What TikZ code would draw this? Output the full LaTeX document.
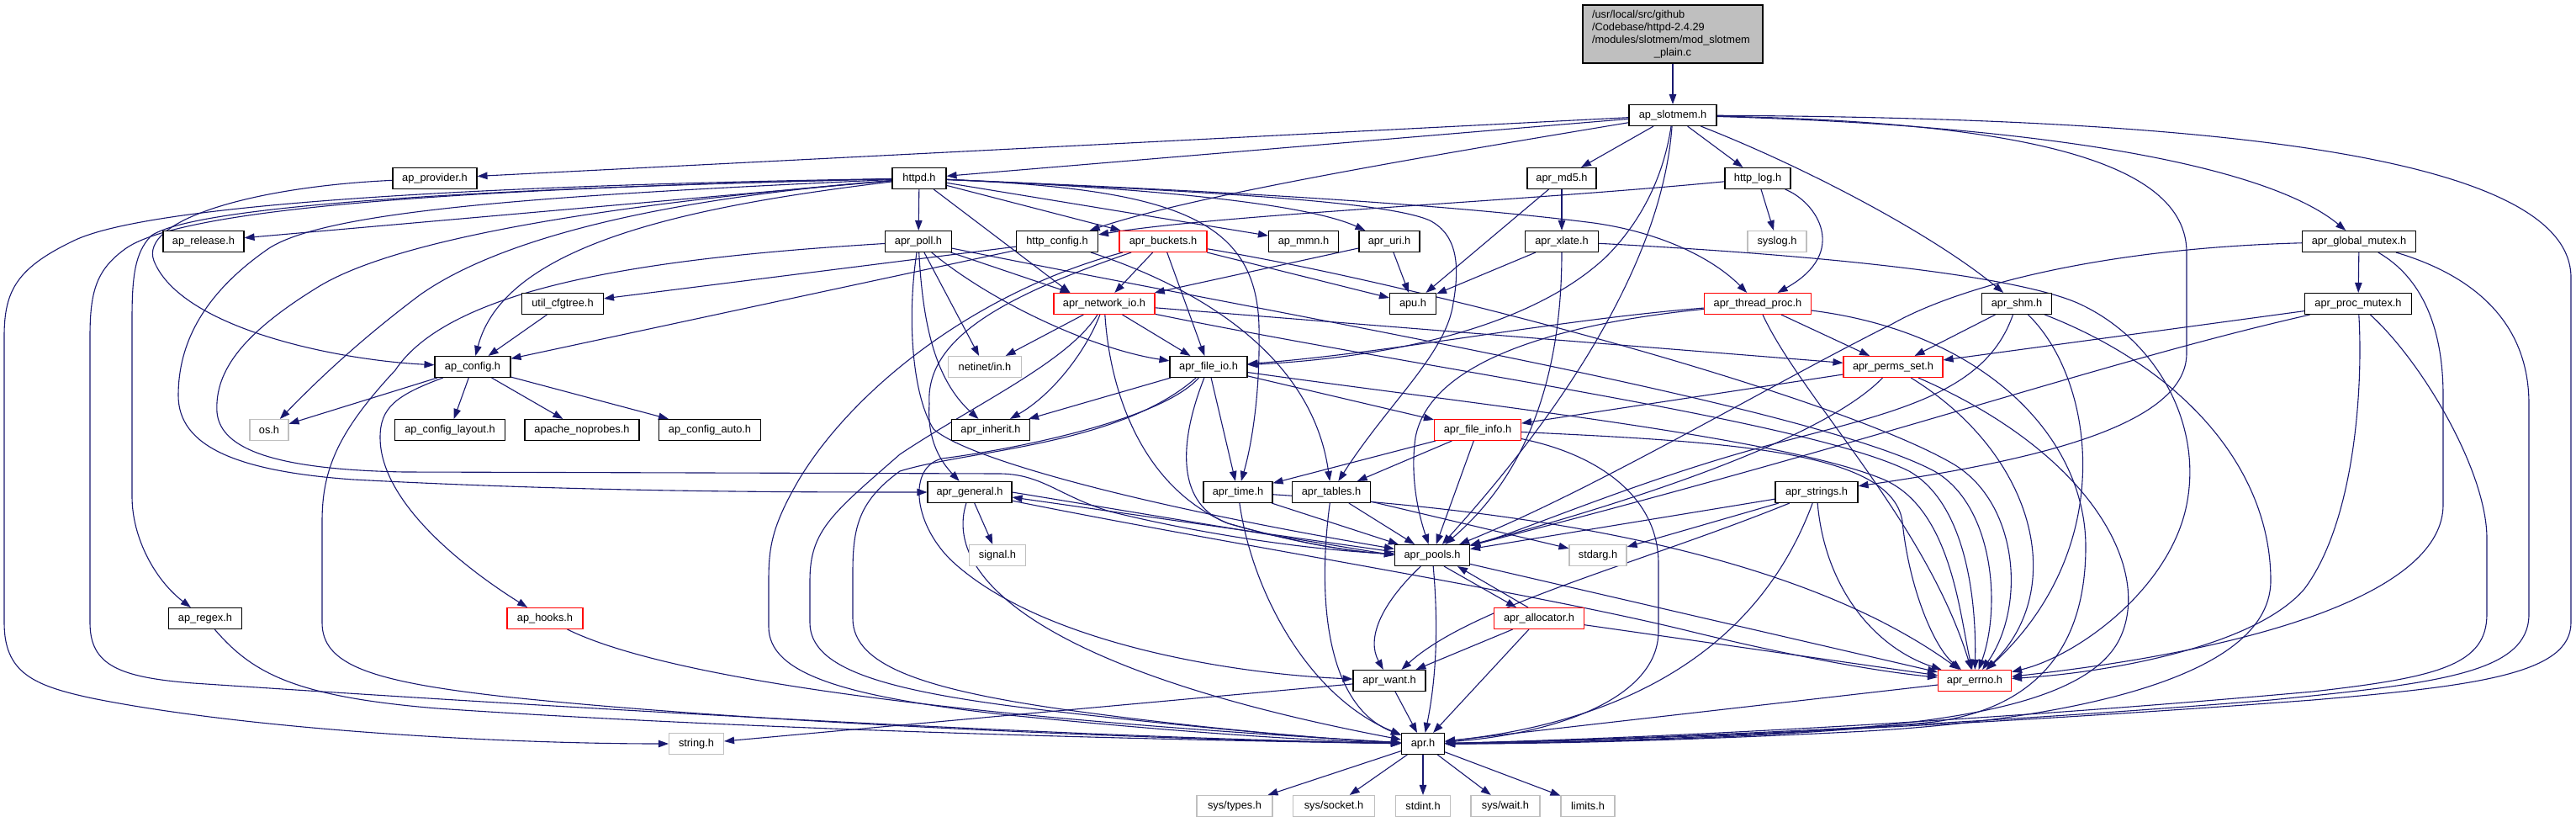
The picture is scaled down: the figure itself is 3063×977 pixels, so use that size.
\documentclass[tikz,border=0pt]{standalone}
\usepackage{fontspec}
\setmainfont{Liberation Sans}
\usetikzlibrary{arrows.meta}
\pgfdeclarelayer{bg}
\pgfsetlayers{bg,main}
\definecolor{edgec}{RGB}{25,25,112}
\definecolor{redc}{RGB}{255,0,0}
\definecolor{grayc}{RGB}{191,191,191}
\begin{document}
\begin{tikzpicture}[x=1pt,y=-1pt,
  nb/.style={draw=black, fill=white, line width=1.1pt, minimum height=25pt, inner xsep=5pt, inner ysep=0pt, font=\fontsize{12.8}{15}\selectfont},
  rb/.style={nb, draw=redc},
  gb/.style={nb, draw=grayc},
  bw/.style={minimum width=#1pt},
  ed/.style={draw=edgec, line width=1.1pt, -{Triangle[length=12pt,width=8.5pt]}},
]
\useasboundingbox (0,0) rectangle (3063,977);
% ---------------- nodes ----------------
\node[draw=black, fill=grayc, line width=1.1pt, minimum width=214pt, minimum height=69pt, text width=192pt, align=left, inner xsep=11pt, inner ysep=0pt, font=\fontsize{12.8}{15}\selectfont] (main) at (1989,40.5) {/usr/local/src/github\\/Codebase/httpd-2.4.29\\/modules/slotmem/mod\_slotmem\\\makebox[192pt][c]{\_plain.c}};
\node[nb, bw=104] (slotmem) at (1989,137) {ap\_slotmem.h};
\node[nb, bw=100] (provider) at (517,212) {ap\_provider.h};
\node[nb, bw=64] (httpd) at (1093,212) {httpd.h};
\node[nb, bw=82] (md5) at (1857,212) {apr\_md5.h};
\node[nb, bw=78] (httplog) at (2090,212) {http\_log.h};
\node[nb, bw=96] (release) at (242,287) {ap\_release.h};
\node[nb, bw=79] (poll) at (1092,287) {apr\_poll.h};
\node[nb, bw=97] (httpconfig) at (1257,287) {http\_config.h};
\node[rb, bw=104] (buckets) at (1383,287) {apr\_buckets.h};
\node[nb, bw=83] (mmn) at (1550,287) {ap\_mmn.h};
\node[nb, bw=72] (uri) at (1652,287) {apr\_uri.h};
\node[nb, bw=87] (xlate) at (1857,287) {apr\_xlate.h};
\node[gb, bw=70] (syslog) at (2113,287) {syslog.h};
\node[nb, bw=135] (globalmutex) at (2805,287) {apr\_global\_mutex.h};
\node[nb, bw=97] (cfgtree) at (669,361) {util\_cfgtree.h};
\node[rb, bw=120] (netio) at (1313,361) {apr\_network\_io.h};
\node[nb, bw=55] (apu) at (1680,361) {apu.h};
\node[rb, bw=127] (threadproc) at (2090,361) {apr\_thread\_proc.h};
\node[nb, bw=83] (shm) at (2398,361) {apr\_shm.h};
\node[nb, bw=127] (procmutex) at (2804,361) {apr\_proc\_mutex.h};
\node[nb, bw=90] (config) at (562,436) {ap\_config.h};
\node[gb, bw=87] (netinet) at (1171,436) {netinet/in.h};
\node[nb, bw=92] (fileio) at (1437,436) {apr\_file\_io.h};
\node[rb, bw=118] (permsset) at (2251,436) {apr\_perms\_set.h};
\node[gb, bw=46] (os) at (320,511) {os.h};
\node[nb, bw=131] (layout) at (535,511) {ap\_config\_layout.h};
\node[nb, bw=136] (noprobes) at (692,511) {apache\_noprobes.h};
\node[nb, bw=121] (cauto) at (844,511) {ap\_config\_auto.h};
\node[nb, bw=93] (inherit) at (1178,511) {apr\_inherit.h};
\node[rb, bw=103] (fileinfo) at (1757,511) {apr\_file\_info.h};
\node[nb, bw=100] (general) at (1153,585) {apr\_general.h};
\node[nb, bw=82] (time) at (1472,585) {apr\_time.h};
\node[nb, bw=93] (tables) at (1583,585) {apr\_tables.h};
\node[nb, bw=98] (strings) at (2160,585) {apr\_strings.h};
\node[gb, bw=67] (signal) at (1186,660) {signal.h};
\node[nb, bw=89] (pools) at (1703,660) {apr\_pools.h};
\node[gb, bw=68] (stdarg) at (1900,660) {stdarg.h};
\node[nb, bw=87] (regex) at (244,735) {ap\_regex.h};
\node[rb, bw=90] (hooks) at (648,735) {ap\_hooks.h};
\node[rb, bw=107] (allocator) at (1830,735) {apr\_allocator.h};
\node[nb, bw=86] (want) at (1652,809) {apr\_want.h};
\node[rb, bw=87] (errno) at (2348,809) {apr\_errno.h};
\node[gb, bw=65] (string) at (828,884) {string.h};
\node[nb, bw=51] (apr) at (1692,884) {apr.h};
\node[gb, bw=90] (systypes) at (1468,958) {sys/types.h};
\node[gb, bw=97] (syssocket) at (1586,958) {sys/socket.h};
\node[gb, bw=65] (stdint) at (1692,958) {stdint.h};
\node[gb, bw=82] (syswait) at (1790,958) {sys/wait.h};
\node[gb, bw=64] (limits) at (1888,958) {limits.h};
% ---------------- edges ----------------
\begin{pgfonlayer}{bg}
\draw[ed] (main) -- (slotmem);
% ap_slotmem.h
\draw[ed] (slotmem) -- (provider);
\draw[ed] (slotmem) -- (httpd);
\draw[ed] (slotmem) .. controls (1700,185) and (1420,232) .. (httpconfig);
\draw[ed] (slotmem) -- (md5);
\draw[ed] (slotmem) -- (httplog);
\draw[ed] (slotmem) .. controls (1975,230) and (1935,280) .. (1910,305) .. controls (1820,390) and (1650,425) .. (fileio);
\draw[ed] (slotmem) .. controls (1975,330) and (1830,520) .. (pools);
\draw[ed] (slotmem) .. controls (2150,200) and (2300,280) .. (shm);
\draw[ed] (slotmem) .. controls (2450,150) and (2700,200) .. (globalmutex);
\draw[ed] (slotmem) .. controls (2400,145) and (2600,190) .. (2600,300) -- (2600,420) .. controls (2600,510) and (2400,550) .. (strings);
\draw[ed] (slotmem) .. controls (2600,140) and (3057,180) .. (3057,330) -- (3057,740) .. controls (3057,800) and (2950,815) .. (2750,832) .. controls (2300,866) and (1900,881) .. (apr);
% httpd.h
\draw[ed] (httpd) -- (release);
\draw[ed] (httpd) .. controls (700,218) and (200,235) .. (90,285) .. controls (20,318) and (5,345) .. (5,400) -- (5,740) .. controls (5,800) and (40,815) .. (110,830) .. controls (300,868) and (600,884) .. (string);
\draw[ed] (httpd) .. controls (650,222) and (230,240) .. (150,295) .. controls (115,320) and (107,345) .. (107,400) -- (107,740) .. controls (107,790) and (140,805) .. (230,812) .. controls (500,830) and (1200,875) .. (apr);
\draw[ed] (httpd) .. controls (650,222) and (240,240) .. (180,280) .. controls (160,300) and (157,330) .. (157,380) -- (157,590) .. controls (157,640) and (185,690) .. (regex);
\draw[ed] (httpd) .. controls (650,232) and (390,250) .. (320,295) .. controls (240,350) and (212,410) .. (212,470) .. controls (212,530) and (280,560) .. (420,570) .. controls (700,585) and (950,585) .. (general);
\draw[ed] (httpd) .. controls (750,240) and (480,280) .. (380,340) .. controls (290,395) and (255,440) .. (258,490) .. controls (262,535) and (330,558) .. (480,561) -- (1190,563) .. controls (1240,564) and (1260,590) .. (1320,608) .. controls (1450,640) and (1580,655) .. (pools);
\draw[ed] (httpd) .. controls (800,235) and (600,280) .. (500,350) .. controls (420,410) and (370,460) .. (os);
\draw[ed] (httpd) .. controls (820,245) and (600,290) .. (config);
\draw[ed] (httpd) -- (poll);
\draw[ed] (httpd) -- ([xshift=20pt]netio.north west);
\draw[ed] (httpd) -- (buckets);
\draw[ed] (httpd) -- (mmn);
\draw[ed] (httpd) .. controls (1400,225) and (1560,245) .. (uri);
\draw[ed] (httpd) .. controls (1400,225) and (1700,240) .. (1895,265) .. controls (1980,277) and (2040,310) .. (threadproc);
\draw[ed] (httpd) .. controls (1400,225) and (1500,260) .. (1497,400) .. controls (1498,470) and (1488,530) .. (time);
\draw[ed] (httpd) .. controls (1450,228) and (1650,240) .. (1700,262) .. controls (1735,280) and (1735,320) .. (1728,360) .. controls (1720,420) and (1650,480) .. (tables);
% ap_provider.h
\draw[ed] (provider) .. controls (300,222) and (165,262) .. (183,310) .. controls (215,390) and (400,428) .. (config);
% apr_poll.h
\draw[ed] (poll) .. controls (800,305) and (540,335) .. (470,440) .. controls (400,515) and (383,560) .. (383,620) -- (383,740) .. controls (383,790) and (440,810) .. (600,828) .. controls (900,860) and (1400,880) .. (apr);
\draw[ed] (poll) .. controls (1078,380) and (1085,470) .. (1110,510) .. controls (1150,545) and (1350,600) .. (pools);
\draw[ed] (poll) .. controls (1097,380) and (1110,450) .. (inherit);
\draw[ed] (poll) -- (netinet);
\draw[ed] (poll) .. controls (1180,360) and (1300,415) .. (fileio);
\draw[ed] (poll) -- ([xshift=20pt]netio.north west);
\draw[ed] (poll) .. controls (1500,370) and (2150,480) .. (2300,560) .. controls (2370,600) and (2380,720) .. (errno);
% http_config.h
\draw[ed] (httpconfig) -- (cfgtree);
\draw[ed] (httpconfig) -- (config);
\draw[ed] (httpconfig) .. controls (1420,340) and (1560,420) .. (tables);
% apr_buckets.h
\draw[ed] (buckets) .. controls (1200,350) and (1100,400) .. (1105,480) .. controls (1102,525) and (1120,550) .. (general);
\draw[ed] (buckets) .. controls (1150,350) and (1010,470) .. (950,570) .. controls (918,625) and (914,650) .. (914,690) -- (914,745) .. controls (914,800) and (1000,828) .. (1200,850) .. controls (1400,870) and (1550,880) .. (apr);
\draw[ed] (buckets) -- (netio);
\draw[ed] (buckets) -- (fileio);
\draw[ed] (buckets) -- (apu);
\draw[ed] (buckets) .. controls (1700,340) and (2180,470) .. (2320,550) .. controls (2400,595) and (2410,720) .. (errno);
% apr_network_io.h
\draw[ed] (netio) -- (netinet);
\draw[ed] (netio) .. controls (1290,420) and (1250,470) .. (inherit);
\draw[ed] (netio) .. controls (1270,430) and (1160,480) .. (1070,540) .. controls (990,610) and (963,630) .. (963,690) -- (963,740) .. controls (963,795) and (1050,822) .. (1250,845) .. controls (1450,868) and (1600,880) .. (apr);
\draw[ed] (netio) .. controls (1320,470) and (1360,580) .. (1460,622) .. controls (1550,648) and (1620,657) .. (pools);
\draw[ed] (netio) -- (fileio);
\draw[ed] (netio) -- (permsset);
\draw[ed] (netio) .. controls (1700,440) and (2150,500) .. (2270,560) .. controls (2340,600) and (2350,720) .. (errno);
% apr_file_io.h
\draw[ed] (fileio) -- (inherit);
\draw[ed] (fileio) -- (time);
\draw[ed] (fileio) -- (fileinfo);
\draw[ed] (fileio) .. controls (1400,530) and (1400,600) .. (1460,622) .. controls (1550,648) and (1620,657) .. (pools);
\draw[ed] (fileio) .. controls (1750,480) and (2120,520) .. (2240,570) .. controls (2320,605) and (2330,730) .. (errno);
\draw[ed] (fileio) .. controls (1330,530) and (1150,535) .. (1070,560) .. controls (1022,595) and (1014,625) .. (1014,680) -- (1014,735) .. controls (1014,792) and (1100,822) .. (1300,848) .. controls (1450,868) and (1600,880) .. (apr);
\draw[ed] (fileio) .. controls (1380,500) and (1200,535) .. (1120,545) .. controls (1080,555) and (1085,620) .. (1130,665) .. controls (1230,760) and (1450,800) .. (want);
% apr_file_info.h
\draw[ed] (fileinfo) -- (time);
\draw[ed] (fileinfo) -- (tables);
\draw[ed] (fileinfo) -- (pools);
\draw[ed] (fileinfo) .. controls (2050,525) and (2250,535) .. (2262,620) .. controls (2270,700) and (2300,770) .. (errno);
\draw[ed] (fileinfo) .. controls (1900,540) and (1972,590) .. (1972,670) -- (1972,750) .. controls (1972,830) and (1850,872) .. (apr);
% apr_time.h
\draw[ed] (time) -- (pools);
\draw[ed] (time) .. controls (1700,600) and (2100,630) .. (errno);
\draw[ed] (time) .. controls (1490,710) and (1560,830) .. (apr);
% apr_tables.h
\draw[ed] (tables) -- (pools);
\draw[ed] (tables) -- (stdarg);
\draw[ed] (tables) .. controls (1565,720) and (1580,840) .. (apr);
% apr_general.h
\draw[ed] (general) -- (signal);
\draw[ed] (general.east) -- (pools.west);
\draw[ed] (general) .. controls (1120,690) and (1250,800) .. (apr);
\draw[ed] (general) .. controls (1450,645) and (1800,700) .. (2000,748) .. controls (2150,785) and (2250,800) .. (errno);
% apr_pools.h
\draw[ed] ([yshift=4pt]pools.west) -- ([yshift=-6pt]general.east);
\draw[ed] (pools) .. controls (1640,720) and (1625,760) .. (want);
\draw[ed] (pools) .. controls (1712,760) and (1705,820) .. (apr);
\draw[ed] ([xshift=14pt]pools.south) -- ([xshift=-27pt]allocator.north);
\draw[ed] (pools) -- (errno);
% apr_allocator.h
\draw[ed] ([xshift=-13pt]allocator.north) -- ([xshift=30pt]pools.south);
\draw[ed] (allocator) -- (want);
\draw[ed] (allocator) -- (apr);
\draw[ed] (allocator) -- (errno);
% apr_want.h
\draw[ed] (want) -- (string);
\draw[ed] (want) -- (apr);
% apr_errno.h
\draw[ed] (errno) -- (apr);
% apr.h
\draw[ed] (apr) -- (systypes);
\draw[ed] (apr) -- (syssocket);
\draw[ed] (apr) -- (stdint);
\draw[ed] (apr) -- (syswait);
\draw[ed] (apr) -- (limits);
% apr_strings.h
\draw[ed] (strings) -- (pools);
\draw[ed] (strings) -- (stdarg);
\draw[ed] (strings) .. controls (1950,670) and (1750,720) .. (want);
\draw[ed] (strings) .. controls (2110,720) and (2000,850) .. (apr);
\draw[ed] (strings) .. controls (2170,700) and (2230,770) .. (errno);
% ap_config.h and friends
\draw[ed] (config) -- (os);
\draw[ed] (config) -- (layout);
\draw[ed] (config) -- (noprobes);
\draw[ed] (config) -- (cauto);
\draw[ed] (config) .. controls (470,470) and (452,485) .. (452,520) .. controls (452,600) and (560,680) .. (hooks);
\draw[ed] (cfgtree) -- (config);
\draw[ed] (regex) .. controls (300,800) and (350,828) .. (520,842) .. controls (900,868) and (1400,880) .. (apr);
\draw[ed] (hooks) .. controls (760,790) and (1000,845) .. (apr);
% apr_md5.h, apr_xlate.h, apr_uri.h
\draw[ed] (md5) -- (apu);
\draw[ed] (md5) -- (xlate);
\draw[ed] (xlate) -- (apu);
\draw[ed] (xlate) .. controls (1857,440) and (1820,560) .. (pools);
\draw[ed] (xlate) .. controls (2200,305) and (2400,330) .. (2470,360) .. controls (2560,400) and (2620,500) .. (2600,600) .. controls (2580,700) and (2470,780) .. (errno);
\draw[ed] (uri) -- (apu);
\draw[ed] (uri) -- (netio);
% http_log.h
\draw[ed] (httplog) .. controls (1800,240) and (1450,255) .. (httpconfig);
\draw[ed] (httplog) -- (syslog);
\draw[ed] (httplog) .. controls (2160,240) and (2200,300) .. (threadproc);
% apr_thread_proc.h
\draw[ed] (threadproc) .. controls (1850,380) and (1650,420) .. (fileio);
\draw[ed] (threadproc) .. controls (1850,385) and (1700,430) .. (1683,520) .. controls (1676,570) and (1688,615) .. (pools);
\draw[ed] (threadproc) -- (permsset);
\draw[ed] (threadproc) .. controls (2140,470) and (2290,620) .. (errno);
\draw[ed] (threadproc) .. controls (2360,395) and (2480,520) .. (2480,650) .. controls (2480,760) and (2430,840) .. (2300,858) .. controls (2100,878) and (1900,882) .. (apr);
% apr_shm.h
\draw[ed] (shm) -- (permsset);
\draw[ed] (shm) .. controls (2360,470) and (2250,490) .. (2100,530) .. controls (1950,570) and (1800,635) .. (pools);
\draw[ed] (shm) .. controls (2490,450) and (2520,650) .. (errno);
\draw[ed] (shm) .. controls (2600,440) and (2700,560) .. (2700,690) .. controls (2700,820) and (2400,860) .. (2200,870) .. controls (2000,880) and (1850,884) .. (apr);
% apr_global_mutex.h
\draw[ed] (globalmutex) -- (procmutex);
\draw[ed] (globalmutex) .. controls (2500,295) and (2330,340) .. (2250,385) .. controls (2100,460) and (1900,580) .. (pools);
\draw[ed] (globalmutex) .. controls (2880,330) and (2905,390) .. (2905,470) -- (2905,600) .. controls (2905,700) and (2700,770) .. (errno);
\draw[ed] (globalmutex) .. controls (2950,330) and (3007,390) .. (3007,480) -- (3007,730) .. controls (3007,800) and (2900,812) .. (2700,832) .. controls (2300,865) and (1900,880) .. (apr);
% apr_proc_mutex.h
\draw[ed] (procmutex) -- (permsset);
\draw[ed] (procmutex) .. controls (2500,430) and (2250,520) .. (pools);
\draw[ed] (procmutex) .. controls (2810,460) and (2800,620) .. (2740,700) .. controls (2680,770) and (2500,800) .. (errno);
\draw[ed] (procmutex) .. controls (2880,430) and (2957,560) .. (2957,640) -- (2957,730) .. controls (2957,790) and (2900,805) .. (2750,822) .. controls (2350,858) and (1950,878) .. (apr);
% apr_perms_set.h
\draw[ed] (permsset) -- (fileinfo);
\draw[ed] (permsset) .. controls (2180,510) and (2000,580) .. (pools);
\draw[ed] (permsset) .. controls (2420,540) and (2460,700) .. (errno);
\draw[ed] (permsset) .. controls (2490,540) and (2560,680) .. (2520,760) .. controls (2480,840) and (2300,862) .. (2100,872) .. controls (1950,880) and (1800,884) .. (apr);
\end{pgfonlayer}
\end{tikzpicture}
\end{document}
